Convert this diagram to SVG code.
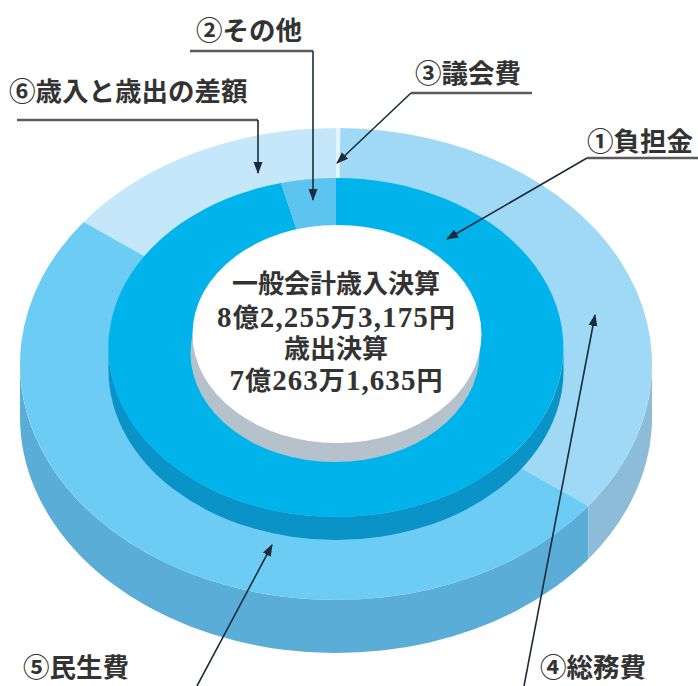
<svg xmlns="http://www.w3.org/2000/svg" width="698" height="686" viewBox="0 0 698 686">
<style>
  .lbl { font-family: "Noto Sans CJK JP", "Liberation Serif", sans-serif; font-size: 26.5px; font-weight: 700; fill: #333; }
  .ctr { font-family: "Liberation Serif", "Noto Sans CJK JP", serif; font-size: 26px; font-weight: 700; fill: #333; text-anchor: middle; }
  .dig { font-size: 29px; }
  .ul { stroke: #5b5b5b; stroke-width: 2.5; fill: none; }
  .ar { stroke: #1d2b3a; stroke-width: 1.6; fill: none; marker-end: url(#ah); }
</style>
<defs>
  <marker id="ah" markerUnits="userSpaceOnUse" markerWidth="14" markerHeight="10" refX="11" refY="4.5" orient="auto">
    <path d="M0,0 L12,4.5 L0,9 Z" fill="#1d2b3a"/>
  </marker>
</defs>
<rect width="698" height="686" fill="#ffffff"/>

<g id="outer-ring">
  <path id="side5" d="M588.4,506 A316,236 0 0 1 20,364 L20,417 A316,236 0 0 0 588.4,559 Z" fill="#5aadd6"/>
  <path id="side4" d="M652,364 A316,236 0 0 1 588.4,506 L588.4,559 A316,236 0 0 0 652,417 Z" fill="#8dbcd9"/>
  <path id="seg6" d="M336,364 L83.6,222 A316,236 0 0 1 336,128 Z" fill="#c4e8f9"/>
  <path id="seg3" d="M336,364 L336,128 A316,236 0 0 1 340.4,128 Z" fill="#e2f5fd"/>
  <path id="seg4" d="M336,364 L340.4,128 A316,236 0 0 1 588.4,506 Z" fill="#9fd9f5"/>
  <path id="seg5" d="M336,364 L588.4,506 A316,236 0 0 1 336,600 A316,236 0 0 1 83.6,222 Z" fill="#6dccf3"/>
</g>

<g id="inner-ring">
  <path id="inner-side" d="M108.5,347.5 A227.5,169.5 0 0 0 563.5,347.5 L563.5,370.5 A227.5,169.5 0 0 1 108.5,370.5 Z" fill="#0993c7"/>
  <path id="seg1" d="M336,347.5 L336,178 A227.5,169.5 0 1 1 281,183 Z" fill="#00b4eb"/>
  <path id="seg2" d="M336,347.5 L281,183 A227.5,169.5 0 0 1 336,178 Z" fill="#5cc4ee"/>
</g>

<g id="center">
  <ellipse cx="335" cy="353" rx="144.5" ry="109" fill="#b5c1cb"/>
  <ellipse cx="337" cy="334" rx="144.5" ry="109" fill="#ffffff"/>
  <text class="ctr" x="336" y="293">一般会計歳入決算</text>
  <text class="ctr" x="336" y="327" textLength="238" lengthAdjust="spacing"><tspan class="dig">8</tspan>億<tspan class="dig">2,255</tspan>万<tspan class="dig">3,175</tspan>円</text>
  <text class="ctr" x="336" y="358">歳出決算</text>
  <text class="ctr" x="336" y="390" textLength="213" lengthAdjust="spacing"><tspan class="dig">7</tspan>億<tspan class="dig">263</tspan>万<tspan class="dig">1,635</tspan>円</text>
</g>

<g id="connectors">
  <line class="ul" x1="190" y1="51" x2="313" y2="51"/>
  <path class="ar" d="M313,51 L313,200"/>
  <line class="ul" x1="17" y1="120" x2="258" y2="120"/>
  <path class="ar" d="M258,120 L258,173"/>
  <line class="ul" x1="411" y1="93" x2="532" y2="93"/>
  <path class="ar" d="M411,93 L337,163"/>
  <line class="ul" x1="587" y1="158" x2="698" y2="158"/>
  <path class="ar" d="M587,158 L447,239"/>
  <path class="ar" d="M524,686 L595,315"/>
  <path class="ar" d="M197,686 L272,545"/>
</g>

<g id="label2"><text class="lbl" x="196" y="40">②その他</text></g>
<g id="label6"><text class="lbl" x="9" y="101">⑥歳入と歳出の差額</text></g>
<g id="label3"><text class="lbl" x="415" y="83">③議会費</text></g>
<g id="label1"><text class="lbl" x="587" y="151">①負担金</text></g>
<g id="label5"><text class="lbl" x="23" y="677">⑤民生費</text></g>
<g id="label4"><text class="lbl" x="540" y="677">④総務費</text></g>
</svg>
